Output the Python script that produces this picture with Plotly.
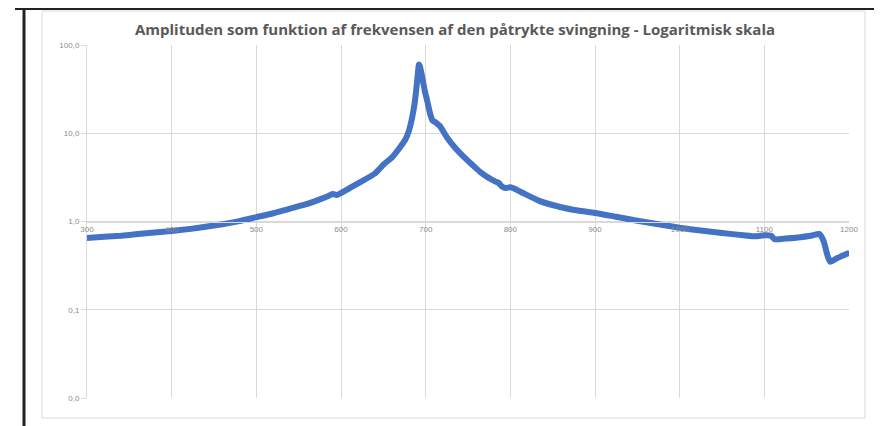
import plotly.graph_objects as go

# Frequency (x) and amplitude (y)
frekvens = [300, 320, 340, 360, 380, 400, 420, 440, 460, 480, 500, 520, 540, 560,
            575, 585, 590, 595, 600, 620, 640, 650, 660, 670, 676, 680, 684, 687,
            689, 691, 692, 693, 695, 697, 699, 702, 705, 708, 712, 717, 725, 735,
            745, 755, 765, 775, 782, 786, 790, 795, 800, 805, 815, 835, 860, 880,
            900, 925, 950, 975, 1000, 1025, 1050, 1075, 1090, 1100, 1108, 1112,
            1125, 1140, 1155, 1165, 1170, 1175, 1178, 1185, 1192, 1200]
amplitude = [0.65, 0.67, 0.69, 0.72, 0.75, 0.78, 0.82, 0.87, 0.93, 1.01, 1.12, 1.24,
             1.40, 1.58, 1.78, 1.95, 2.05, 2.0, 2.1, 2.7, 3.5, 4.4, 5.3, 7.0, 8.5,
             10.5, 15, 22, 32, 50, 60, 58, 48, 38, 30, 23, 17, 14, 13.2, 12, 9,
             6.8, 5.4, 4.4, 3.6, 3.1, 2.85, 2.75, 2.5, 2.4, 2.45, 2.35, 2.1, 1.7,
             1.45, 1.33, 1.25, 1.13, 1.02, 0.93, 0.85, 0.79, 0.74, 0.70, 0.68,
             0.70, 0.69, 0.63, 0.64, 0.66, 0.69, 0.72, 0.60, 0.40, 0.35, 0.38,
             0.41, 0.44]

x_ticks = [300, 400, 500, 600, 700, 800, 900, 1000, 1100, 1200]
y_ticks = [0.01, 0.1, 1, 10, 100]
y_tick_labels = ["0,0", "0,1", "1,0", "10,0", "100,0"]

title_text = "Amplituden som funktion af frekvensen af den påtrykte svingning - Logaritmisk skala"

BLUE = "#4472C4"
GRID = "#d9d9d9"
LABEL = "#8c8c8c"

# page body has an 8px margin: figure occupies 8..882 x 8..426
OFF = 8
W, H = 882 - OFF, 426 - OFF
L, R, T, B = 87 - OFF, 882 - 849, 45 - OFF, 426 - 398
PW, PH = 762, 353


def px_x(px):
    return (px - 87) / PW


def px_y(py):
    return (398 - py) / PH


fig = go.Figure()
fig.add_trace(go.Scatter(
    x=frekvens, y=amplitude, mode="lines+markers",
    line=dict(color=BLUE, width=6, shape="spline", smoothing=0.5),
    marker=dict(color=BLUE, size=5),
    showlegend=False, hoverinfo="x+y",
))

fig.update_layout(
    width=W, height=H,
    margin=dict(l=L, r=R, t=T, b=B),
    paper_bgcolor="white", plot_bgcolor="white",
    font=dict(family="Liberation Sans, Arial, sans-serif", color=LABEL, size=8),
    title=dict(text=title_text, x=(455 - OFF) / W, xref="container", xanchor="center",
               y=1 - (30 - OFF) / H, yref="container", yanchor="middle",
               font=dict(family="Open Sans, sans-serif", size=15, color="#595959",
                         weight="bold")),
    xaxis=dict(range=[300, 1200], tickvals=x_ticks, ticktext=[str(v) for v in x_ticks],
               showgrid=True, gridcolor=GRID, gridwidth=1, zeroline=False,
               anchor="free", position=0.5, showline=True, linecolor=GRID,
               ticks="", tickfont=dict(size=8, color=LABEL)),
    yaxis=dict(type="log", range=[-2, 2], tickvals=y_ticks, ticktext=y_tick_labels,
               showgrid=True, gridcolor=GRID, gridwidth=1, zeroline=False,
               showline=True, linecolor=GRID, ticks="outside", ticklen=5,
               tickcolor=GRID, tickfont=dict(size=8, color=LABEL)),
    shapes=[
        # chart area border
        dict(type="rect", xref="paper", yref="paper",
             x0=px_x(42), x1=px_x(865), y0=px_y(418), y1=px_y(11),
             line=dict(color=GRID, width=1), layer="below"),
        # document frame lines
        dict(type="line", xref="paper", yref="paper",
             x0=px_x(15), x1=px_x(882), y0=px_y(9), y1=px_y(9),
             line=dict(color="#222222", width=2)),
        dict(type="line", xref="paper", yref="paper",
             x0=px_x(24), x1=px_x(24), y0=px_y(9), y1=px_y(430),
             line=dict(color="#222222", width=3)),
    ],
)

fig.write_html("out.html")
